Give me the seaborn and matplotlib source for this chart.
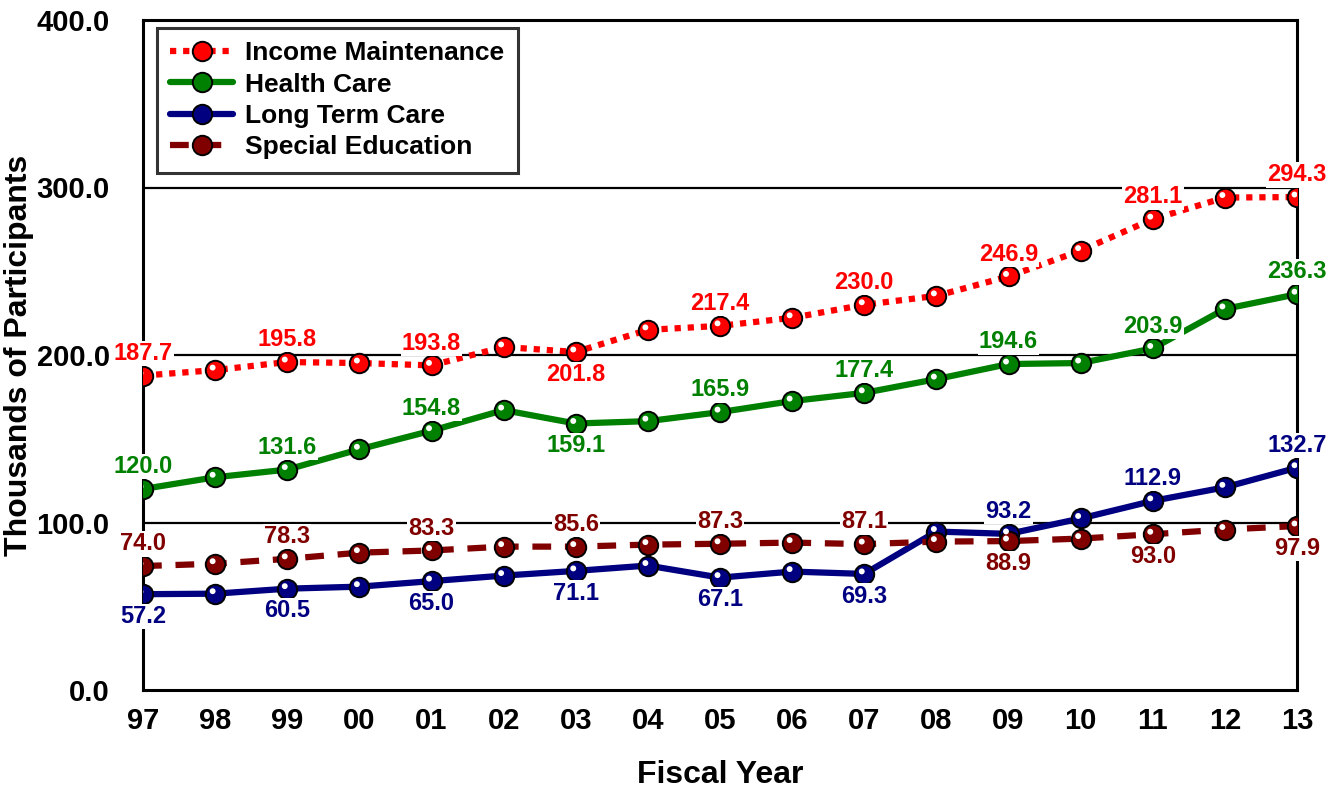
import matplotlib
matplotlib.use("Agg")
import matplotlib.pyplot as plt
import matplotlib.transforms as mtransforms
import pandas as pd
import seaborn as sns

# fiscal years and participants (thousands)
years = ["97", "98", "99", "00", "01", "02", "03", "04", "05",
         "06", "07", "08", "09", "10", "11", "12", "13"]
income_maintenance = [187.7, 191.0, 195.8, 195.2, 193.8, 204.8, 201.8, 215.0, 217.4,
                      222.2, 230.0, 235.3, 246.9, 262.3, 281.1, 294.0, 294.3]
health_care = [120.0, 127.0, 131.6, 143.7, 154.8, 167.1, 159.1, 160.5, 165.9,
               172.5, 177.4, 185.6, 194.6, 195.2, 203.9, 227.5, 236.3]
long_term_care = [57.2, 57.5, 60.5, 61.7, 65.0, 68.3, 71.1, 74.3, 67.1,
                  70.7, 69.3, 94.6, 93.2, 102.4, 112.9, 121.0, 132.7]
special_education = [74.0, 75.4, 78.3, 82.0, 83.3, 85.6, 85.6, 86.8, 87.3,
                     88.0, 87.1, 88.6, 88.9, 90.4, 93.0, 95.8, 97.9]

# which points get a value label, and whether it sits above (+1) or below (-1)
label_idx = [0, 2, 4, 6, 8, 10, 12, 14, 16]
income_side = [1, 1, 1, -1, 1, 1, 1, 1, 1]
health_side = [1, 1, 1, -1, 1, 1, 1, 1, 1]
ltc_side = [-1, -1, -1, -1, -1, -1, 1, 1, 1]
sped_side = [1, 1, 1, 1, 1, 1, -1, -1, -1]

sns.set_style("white")
plt.rcParams["font.family"] = ["Liberation Sans", "DejaVu Sans"]
plt.rcParams["font.weight"] = "bold"
plt.rcParams["text.color"] = "black"
plt.rcParams["axes.labelcolor"] = "black"
plt.rcParams["xtick.color"] = "black"
plt.rcParams["ytick.color"] = "black"

fig = plt.figure(figsize=(13.38, 7.9), dpi=100)
ax = fig.add_axes([143 / 1338, 1 - 690 / 790, (1297 - 143) / 1338, (690 - 20) / 790])

x = list(range(len(years)))
series = [
    ("Income Maintenance", income_maintenance, "#FF0000", (0, (1, 1.1)), income_side),
    ("Health Care", health_care, "#008000", "-", health_side),
    ("Long Term Care", long_term_care, "#000080", "-", ltc_side),
    ("Special Education", special_education, "#800000", (0, (3, 2.2)), sped_side),
]

highlight = mtransforms.offset_copy(ax.transData, fig=fig, x=-2.5, y=2.5, units="dots")

for name, vals, color, ls, sides in series:
    df = pd.DataFrame({"year": x, "value": vals})
    sns.lineplot(data=df, x="year", y="value", ax=ax, color=color, linewidth=4.5,
                 linestyle=ls, marker="o", markersize=14, markerfacecolor=color,
                 markeredgecolor="black", markeredgewidth=1.4, label=name, zorder=3,
                 dash_capstyle="butt")
    ax.scatter(x, vals, s=18, color="white", edgecolors="none", zorder=4,
               transform=highlight)
    for i, s in zip(label_idx, sides):
        ax.annotate(f"{vals[i]:.1f}", (x[i], vals[i]), xytext=(0, 16 * s),
                    textcoords="offset points", ha="center", va="center",
                    fontsize=17, fontweight="bold", color=color, zorder=6,
                    bbox=dict(boxstyle="square,pad=0.05", fc="white", ec="none"))

ax.set_xlim(0, len(years) - 1)
ax.set_ylim(0, 400)
ax.set_xticks(x)
ax.set_xticklabels(years)
ax.set_yticks([0, 100, 200, 300, 400])
ax.set_yticklabels(["0.0", "100.0", "200.0", "300.0", "400.0"])
ax.tick_params(axis="x", direction="in", length=18, width=1.2, pad=12,
               labelsize=21, color="black")
ax.tick_params(axis="y", length=0, pad=24, labelsize=21)
for lab in ax.get_xticklabels() + ax.get_yticklabels():
    lab.set_fontweight("bold")

for y in [100, 200, 300]:
    ax.axhline(y, color="black", linewidth=1.6, zorder=1)
for sp in ax.spines.values():
    sp.set_visible(True)
    sp.set_color("black")
    sp.set_linewidth(2.2)

ax.set_xlabel("Fiscal Year", fontsize=23, fontweight="bold", labelpad=18)
ax.set_ylabel("Thousands of Participants", fontsize=23, fontweight="bold", labelpad=2)

leg = ax.legend(loc="upper left", bbox_to_anchor=(0.012, 0.988), borderaxespad=0,
                fontsize=19, frameon=True, fancybox=False, handlelength=2.4,
                labelspacing=0.28, borderpad=0.5, handletextpad=0.45)
leg.get_frame().set_edgecolor("black")
leg.get_frame().set_linewidth(2.2)
for t in leg.get_texts():
    t.set_fontweight("bold")

fig.savefig("out.png", dpi=100)
